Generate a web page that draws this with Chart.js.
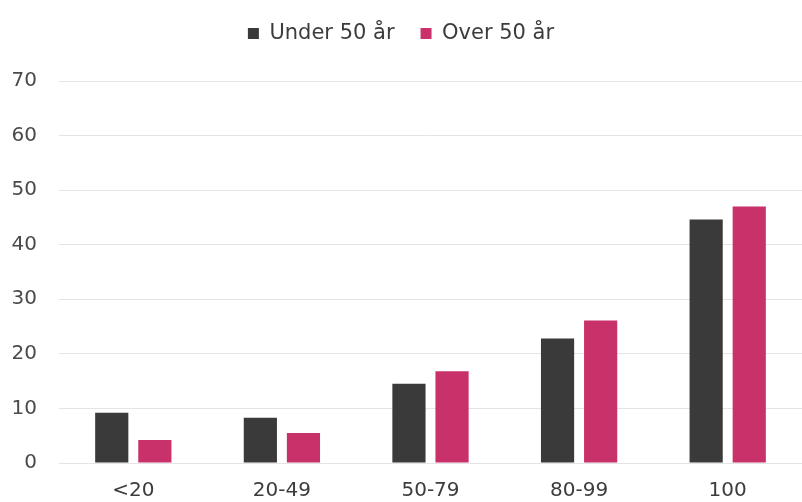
<!DOCTYPE html>
<html>
<head>
<meta charset="utf-8">
<script src="https://cdn.jsdelivr.net/npm/chart.js@4"></script>
<style>
  body { margin: 0; background: #fff; }
  #wrap { width: 802px; height: 502px; }
</style>
</head>
<body>
<div id="wrap"><canvas id="chart" width="802" height="502"></canvas></div>
<script>
// data
const kategorier = ['<20', '20-49', '50-79', '80-99', '100'];
const under50 = [9.2, 8.3, 14.5, 22.8, 44.6];
const over50 = [4.2, 5.5, 16.8, 26.1, 47.0];
const yTicks = [0, 10, 20, 30, 40, 50, 60, 70];

const tekst = { family: 'DejaVu Sans', size: 20 };

// extra luft under forklaringen
const legendLuft = {
    id: 'legendLuft',
    beforeInit(chart) {
        const fit = chart.legend.fit;
        chart.legend.fit = function () {
            fit.bind(chart.legend)();
            this.height += 27;
        };
    }
};

const ctx = document.getElementById('chart').getContext('2d');
new Chart(ctx, {
    type: 'bar',
    data: {
        labels: kategorier,
        datasets: [
            {
                label: 'Under 50 år',
                data: under50,
                backgroundColor: '#3a3a3a',
                categoryPercentage: 0.58,
                barPercentage: 0.77
            },
            {
                label: 'Over 50 år',
                data: over50,
                backgroundColor: '#c9316a',
                categoryPercentage: 0.58,
                barPercentage: 0.77
            }
        ]
    },
    options: {
        responsive: false,
        animation: false,
        layout: { padding: { left: 0, right: 0, top: -3, bottom: -9 } },
        plugins: {
            legend: {
                position: 'top',
                labels: {
                    font: { family: 'DejaVu Sans', size: 21 },
                    color: '#3c3c3c',
                    boxWidth: 11,
                    boxHeight: 11,
                    padding: 26
                }
            },
            tooltip: { enabled: false }
        },
        scales: {
            x: {
                grid: { display: false },
                border: { display: false },
                ticks: {
                    font: tekst,
                    color: '#3c3c3c',
                    padding: 8
                }
            },
            y: {
                min: yTicks[0],
                max: yTicks[yTicks.length - 1],
                afterBuildTicks: axis => { axis.ticks = yTicks.map(v => ({ value: v })); },
                afterFit: axis => { axis.width = 59; },
                grid: { color: '#e4e4e4', drawTicks: false },
                border: { display: false },
                ticks: {
                    font: tekst,
                    color: '#4a4a4a',
                    padding: 22
                }
            }
        }
    },
    plugins: [legendLuft]
});
</script>
</body>
</html>
